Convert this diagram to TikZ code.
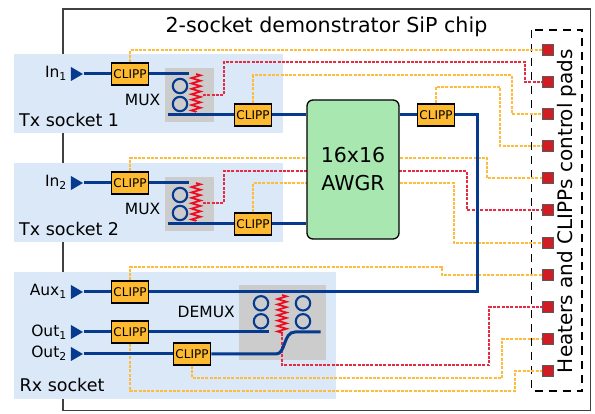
\documentclass[tikz,border=0pt]{standalone}
\usepackage{fontspec}
\setmainfont{DejaVu Sans}
\usetikzlibrary{shapes.geometric,decorations.pathmorphing}

\definecolor{socketblue}{HTML}{DAE8F8}
\definecolor{muxgray}{HTML}{CCCCCC}
\definecolor{wireblue}{HTML}{063A8E}
\definecolor{clippfill}{HTML}{FDB92F}
\definecolor{wireorange}{HTML}{FFBC3C}
\definecolor{wirered}{HTML}{E62B45}
\definecolor{heatred}{HTML}{F00A20}
\definecolor{padred}{HTML}{D01C22}
\definecolor{awgrgreen}{HTML}{A8E8B0}

\tikzset{
    socket/.style={fill=socketblue,draw=none},
    muxbox/.style={fill=muxgray,draw=none},
    clipp/.style={draw=black,fill=clippfill,line width=1.7pt,minimum width=37pt,minimum height=21.5pt,inner sep=0pt,font=\fontsize{12}{12}\selectfont},
    pad/.style={draw=black!65,fill=padred,line width=.8pt,minimum size=11pt,inner sep=0pt},
    port/.style={isosceles triangle,isosceles triangle stretches,fill=wireblue,minimum height=12pt,minimum width=14pt,inner sep=0pt},
    wave/.style={draw=wireblue,line width=3pt},
    ring/.style={draw=wireblue,line width=2.1pt},
    heater/.style={draw=heatred,line width=1.7pt,decorate,decoration={zigzag,amplitude=4.6pt,segment length=5.4pt}},
    orangewire/.style={draw=wireorange,line width=1.5pt,dash pattern=on 3pt off 1.3pt},
    redwire/.style={draw=wirered,line width=1.5pt,dash pattern=on 3pt off 1.3pt},
    lbl/.style={font=\fontsize{15.5}{15.5}\selectfont,inner sep=0pt},
    socketlbl/.style={font=\fontsize{17.5}{17.5}\selectfont,inner sep=0pt,anchor=west}
}

\begin{document}
\begin{tikzpicture}[x=1pt,y=-1pt]
    \useasboundingbox (0,0) rectangle (595,414);

    % chip outline and title
    \draw[draw=black!75,line width=1.4pt] (63,9) rectangle (590.5,410.5);
    \node[font=\fontsize{20.6}{20.6}\selectfont,inner sep=0pt] (title) at (326.5,27) {2-socket demonstrator SiP chip};

    % sockets
    \fill[socket] (14,54) rectangle (283,133);
    \fill[socket] (14,163) rectangle (283,242);
    \fill[socket] (14,272) rectangle (336,399);
    \fill[muxbox] (165,68) rectangle (214,122);
    \fill[muxbox] (165,177) rectangle (214,231);
    \fill[muxbox] (239,285) rectangle (326,360);

    % control pads
    \draw[line width=1.1pt,dash pattern=on 8pt off 6pt] (531.5,30) rectangle (582,391);
    \foreach \n/\y in {1/50,2/82,3/114,4/146,5/178,6/210,7/243,8/275,9/307,10/339,11/371}
        \node[pad] (pad\n) at (547.5,\y) {};
    \node[rotate=90,font=\fontsize{20}{20}\selectfont,inner sep=0pt] (padtext) at (566.5,211) {Heaters and CLIPPs control pads};

    % switches
    \node[clipp] (clipp1) at (130,74) {CLIPP};
    \node[clipp] (clipp2) at (253,115) {CLIPP};
    \node[clipp] (clipp3) at (130,183) {CLIPP};
    \node[clipp] (clipp4) at (253,224) {CLIPP};
    \node[clipp] (clipp5) at (436,115) {CLIPP};
    \node[clipp] (clipp6) at (130,292) {CLIPP};
    \node[clipp] (clipp7) at (130,332) {CLIPP};
    \node[clipp] (clipp8) at (192,354) {CLIPP};

    % heater pick-offs
    \coordinate (heat1) at (203,95);
    \coordinate (heat2) at (203,203);
    \coordinate (heat3) at (282,333);

    % electrical wires
    \draw[orangewire] (clipp1.north) |- (pad1.west);
    \draw[redwire] (heat1) -| (224,62) -| (525,82) -- (pad2.west);
    \draw[orangewire] (clipp2.north) |- (512,75) |- (pad3.west);
    \draw[orangewire] (clipp5.north) |- (500,87) |- (pad4.west);
    \draw[orangewire] (clipp3.north) |- (487,158) |- (pad5.west);
    \draw[redwire] (heat2) -| (224,171) -| (467,210) -- (pad6.west);
    \draw[orangewire] (clipp4.north) |- (454,183) |- (pad7.west);
    \draw[orangewire] (clipp6.north) |- (442,267) |- (pad8.west);
    \draw[redwire] (heat3) |- (489,365) |- (pad9.west);
    \draw[orangewire] (clipp8.south) |- (502,378) |- (pad10.west);
    \draw[orangewire] (clipp7.south) |- (515,391) |- (pad11.west);

    % router
    \node[draw=black,fill=awgrgreen,line width=1.3pt,rounded corners=6pt,minimum width=92pt,minimum height=139pt,inner sep=0pt,align=center,font=\fontsize{20.5}{28}\selectfont] (awgr) at (353,169.5) {16x16\\AWGR};

    % input and output ports
    \node[port] (in1) at (75,74) {};
    \node[port] (in2) at (75,183) {};
    \node[port] (aux1) at (75,292) {};
    \node[port] (out1) at (75,332) {};
    \node[port] (out2) at (75,354) {};
    \node[lbl,anchor=east] (in1text) at (67,73) {In\textsubscript{1}};
    \node[lbl,anchor=east] (in2text) at (67,182) {In\textsubscript{2}};
    \node[lbl,anchor=east] (aux1text) at (67,291) {Aux\textsubscript{1}};
    \node[lbl,anchor=east] (out1text) at (67,332) {Out\textsubscript{1}};
    \node[lbl,anchor=east] (out2text) at (67,353) {Out\textsubscript{2}};
    \node[lbl,anchor=east] (mux1text) at (160.5,100) {MUX};
    \node[lbl,anchor=east] (mux2text) at (160.5,209) {MUX};
    \node[lbl,anchor=east] (demuxtext) at (235,312) {DEMUX};
    \node[socketlbl] (tx1text) at (19,120) {Tx socket 1};
    \node[socketlbl] (tx2text) at (19,228.5) {Tx socket 2};
    \node[socketlbl] (rxtext) at (19.5,385) {Rx socket};

    % waveguides
    \coordinate (mux1in) at (189,74);
    \coordinate (mux1out) at (168,115);
    \coordinate (mux2in) at (189,183);
    \coordinate (mux2out) at (168,224);
    \coordinate (demuxin) at (269,332);
    \coordinate (demuxout) at (320.5,332);
    \draw[wave] (in1) -- (clipp1);
    \draw[wave] (clipp1) -- (mux1in);
    \draw[wave] (mux1out) -- (clipp2);
    \draw[wave] (clipp2) -- (clipp2 -| awgr.west);
    \draw[wave] (in2) -- (clipp3);
    \draw[wave] (clipp3) -- (mux2in);
    \draw[wave] (mux2out) -- (clipp4);
    \draw[wave] (clipp4) -- (clipp4 -| awgr.west);
    \draw[wave] (clipp5 -| awgr.east) -- (clipp5);
    \draw[wave] (clipp5) -| (477,292) -- (clipp6);
    \draw[wave] (aux1) -- (clipp6);
    \draw[wave] (out1) -- (clipp7);
    \draw[wave] (clipp7) -- (demuxin);
    \draw[wave] (out2) -- (clipp8);
    \draw[wave] (clipp8) -- (276,354) .. controls (286,354) and (283,332) .. (295,332) -- (demuxout);

    % rings and heaters
    \foreach \cx/\cy in {180/86,180/104,180/195,180/213,261/303.3,261/321.3,303/303.3,303/321.3}
        \draw[ring] (\cx,\cy) circle (7.2);
    \draw[heater] (196,74) -- (196,112);
    \draw[heater] (196,183) -- (196,221);
    \draw[heater] (282,295) -- (282,333);

\end{tikzpicture}
\end{document}
